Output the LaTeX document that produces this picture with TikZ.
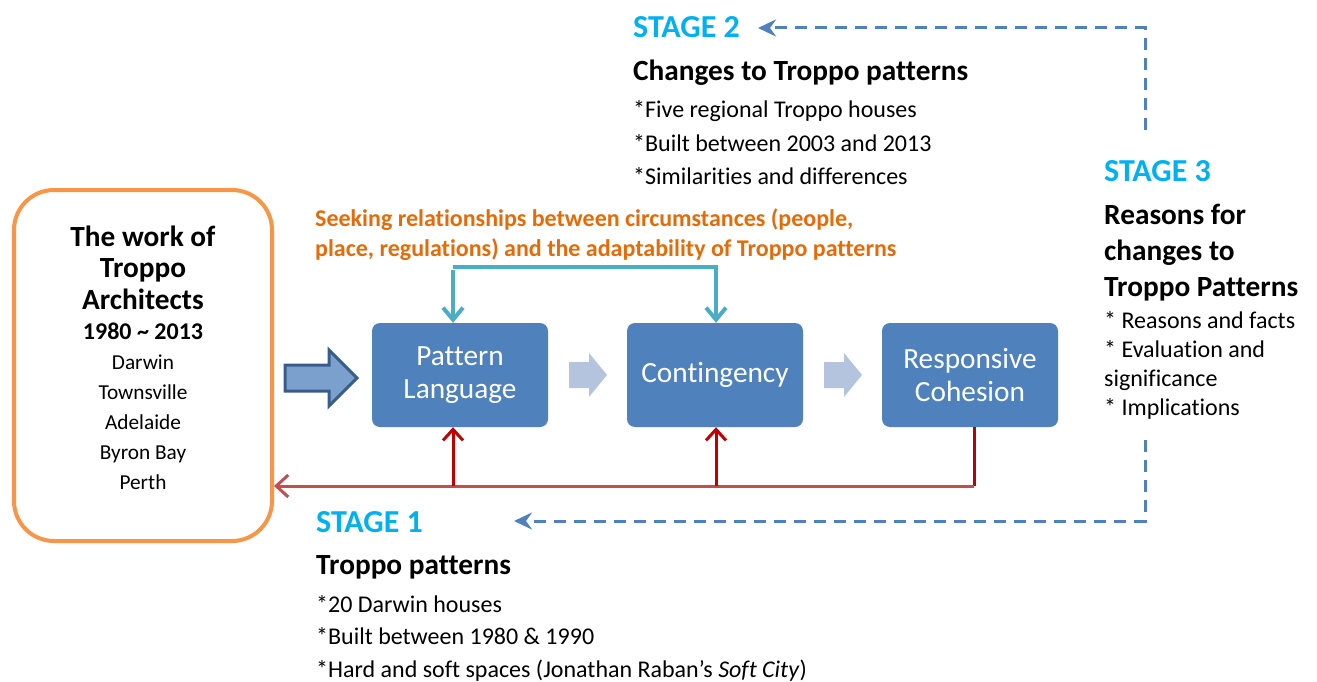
\documentclass[tikz,border=0pt]{standalone}
\usepackage{fontspec}
\setmainfont{Carlito}[Ligatures={TeX,NoCommon}]
\usetikzlibrary{arrows.meta}

\definecolor{boxblue}{HTML}{4F81BD}
\definecolor{darkblue}{HTML}{385D8A}
\definecolor{midblue}{HTML}{7BA0CD}
\definecolor{paleblue}{HTML}{B4C4DF}
\definecolor{seekcyan}{HTML}{4BACC6}
\definecolor{stagecyan}{HTML}{00B0F0}
\definecolor{linered}{HTML}{C0504D}
\definecolor{arrowred}{HTML}{C00000}
\definecolor{workorange}{HTML}{F79646}
\definecolor{seekorange}{HTML}{E36C09}

\tikzset{
  stagehead/.style={anchor=base west, inner sep=0pt, text=stagecyan,
    font=\fontsize{32}{32}\selectfont\bfseries},
  stagetitle/.style={anchor=base west, inner sep=0pt,
    font=\fontsize{29.3}{30}\selectfont\bfseries},
  stageitem/.style={anchor=base west, inner sep=0pt,
    font=\fontsize{24}{24}\selectfont},
  workline/.style={anchor=base, inner sep=0pt},
  stepbox/.style={draw=none, fill=boxblue, rounded corners=8pt, text=white,
    minimum width=176pt, minimum height=104pt, align=center,
    font=\fontsize{29.3}{33}\selectfont},
  chevron/.style={fill=paleblue},
  dashline/.style={draw=boxblue, line width=3pt, dash pattern=on 12pt off 8pt,
    -{Stealth[length=18pt,width=17pt,inset=6pt]}},
  seekline/.style={draw=seekcyan, line width=4pt},
  busline/.style={draw=linered, line width=3pt},
  upline/.style={draw=arrowred, line width=3pt},
}

\begin{document}
\begin{tikzpicture}[x=1pt,y=-1pt]
\useasboundingbox (0,0) rectangle (1317,682);

% left box
\node[draw=workorange, line width=4pt, rounded corners=40pt,
  minimum width=258pt, minimum height=351pt] (work) at (143,365.5) {};
\node[workline, font=\fontsize{29.3}{30}\selectfont\bfseries] (w1) at (143,246) {The work of};
\node[workline, font=\fontsize{29.3}{30}\selectfont\bfseries] (w2) at (143,277) {Troppo};
\node[workline, font=\fontsize{29.3}{30}\selectfont\bfseries] (w3) at (143,309) {Architects};
\node[workline, font=\fontsize{24}{24}\selectfont\bfseries] (w4) at (143,339) {1980 \textasciitilde{} 2013};
\node[workline, font=\fontsize{21.3}{22}\selectfont] (c1) at (143,369) {Darwin};
\node[workline, font=\fontsize{21.3}{22}\selectfont] (c2) at (143,399) {Townsville};
\node[workline, font=\fontsize{21.3}{22}\selectfont] (c3) at (143,429) {Adelaide};
\node[workline, font=\fontsize{21.3}{22}\selectfont] (c4) at (143,459) {Byron Bay};
\node[workline, font=\fontsize{21.3}{22}\selectfont] (c5) at (143,489) {Perth};

% big arrow into the boxes
\draw[darkblue, fill=midblue, line width=3pt, line join=miter]
  (285,365) -- (329,365) -- (329,350) -- (357,378) -- (329,406) -- (329,391) -- (285,391) -- cycle;

% the three stages
\node[stepbox] (pat) at (460,375) {\raisebox{-2pt}{Pattern}\\\raisebox{-2pt}{Language}};
\node[stepbox] (cont) at (715,375) {Contingency};
\node[stepbox] (resp) at (970,375) {\raisebox{-2pt}{Responsive}\\\raisebox{-2pt}{Cohesion}};

\fill[chevron] (569,362) -- (589,362) -- (589,353) -- (607,375) -- (589,397) -- (589,388) -- (569,388) -- cycle;
\fill[chevron] (824,362) -- (844,362) -- (844,353) -- (862,375) -- (844,397) -- (844,388) -- (824,388) -- cycle;

% seeking relationships
\node[anchor=base west, inner sep=0pt, text=seekorange,
  font=\fontsize{24}{24}\selectfont\bfseries] (seek1) at (315,226)
  {Seeking relationships between circumstances (people,};
\node[anchor=base west, inner sep=0pt, text=seekorange,
  font=\fontsize{24}{24}\selectfont\bfseries] (seek2) at (315,256)
  {place, regulations) and the adaptability of Troppo patterns};
\coordinate (seekl) at (453,270);
\coordinate (seekr) at (716,273);
\draw[seekline, -{Straight Barb[length=12pt,width=20pt]}] (seekl) -- ([xshift=-7pt]pat.north);
\draw[seekline, -{Straight Barb[length=12pt,width=20pt]}] ([yshift=3pt]seekl) -| ([xshift=1pt]cont.north);

% feedback to the left box
\coordinate (bus) at (974,486);
\draw[upline] (resp.south -| bus) -- (bus);
\draw[busline, -{Straight Barb[length=12pt,width=22pt]}] (bus) -- (work.east |- bus);
\draw[upline, -{Straight Barb[length=11pt,width=20pt]}] ([xshift=-7pt]pat.south |- bus) -- ([xshift=-7pt]pat.south);
\draw[upline, -{Straight Barb[length=11pt,width=20pt]}] ([xshift=1pt]cont.south |- bus) -- ([xshift=1pt]cont.south);

% stage 2
\node[stagehead] (st2) at (633,38) {STAGE 2};
\node[stagetitle] (st2t) at (633,81) {Changes to Troppo patterns};
\node[stageitem] (st2a) at (633,118) {*Five regional Troppo houses};
\node[stageitem] (st2b) at (633,151) {*Built between 2003 and 2013};
\node[stageitem] (st2c) at (633,184) {*Similarities and differences};

% stage 3
\node[stagehead] (st3) at (1104,182) {STAGE 3};
\node[stagetitle] (st3t) at (1104,224) {Reasons for};
\node[stagetitle] (st3u) at (1104,260) {changes to};
\node[stagetitle] (st3v) at (1104,296) {Troppo Patterns};
\node[stageitem] (st3a) at (1104,328) {* Reasons and facts};
\node[stageitem] (st3b) at (1104,357) {* Evaluation and};
\node[stageitem] (st3c) at (1104,386) {significance};
\node[stageitem] (st3d) at (1104,415) {* Implications};

% stage 1
\node[stagehead] (st1) at (316,532) {STAGE 1};
\node[stagetitle] (st1t) at (316,574) {Troppo patterns};
\node[stageitem] (st1a) at (316,612) {*20 Darwin houses};
\node[stageitem] (st1b) at (316,644) {*Built between 1980 \& 1990};
\node[stageitem] (st1c) at (316,677) {*Hard and soft spaces (Jonathan Raban’s \textit{Soft City})};

% dashed links between the stages
\coordinate (up3) at (1145,130);
\coordinate (tip2) at (758,28);
\coordinate (dn3) at (1145,440);
\coordinate (tip1) at (514,521);
\draw[dashline] (up3) |- (tip2);
\draw[dashline] (dn3) |- (tip1);
\end{tikzpicture}
\end{document}
